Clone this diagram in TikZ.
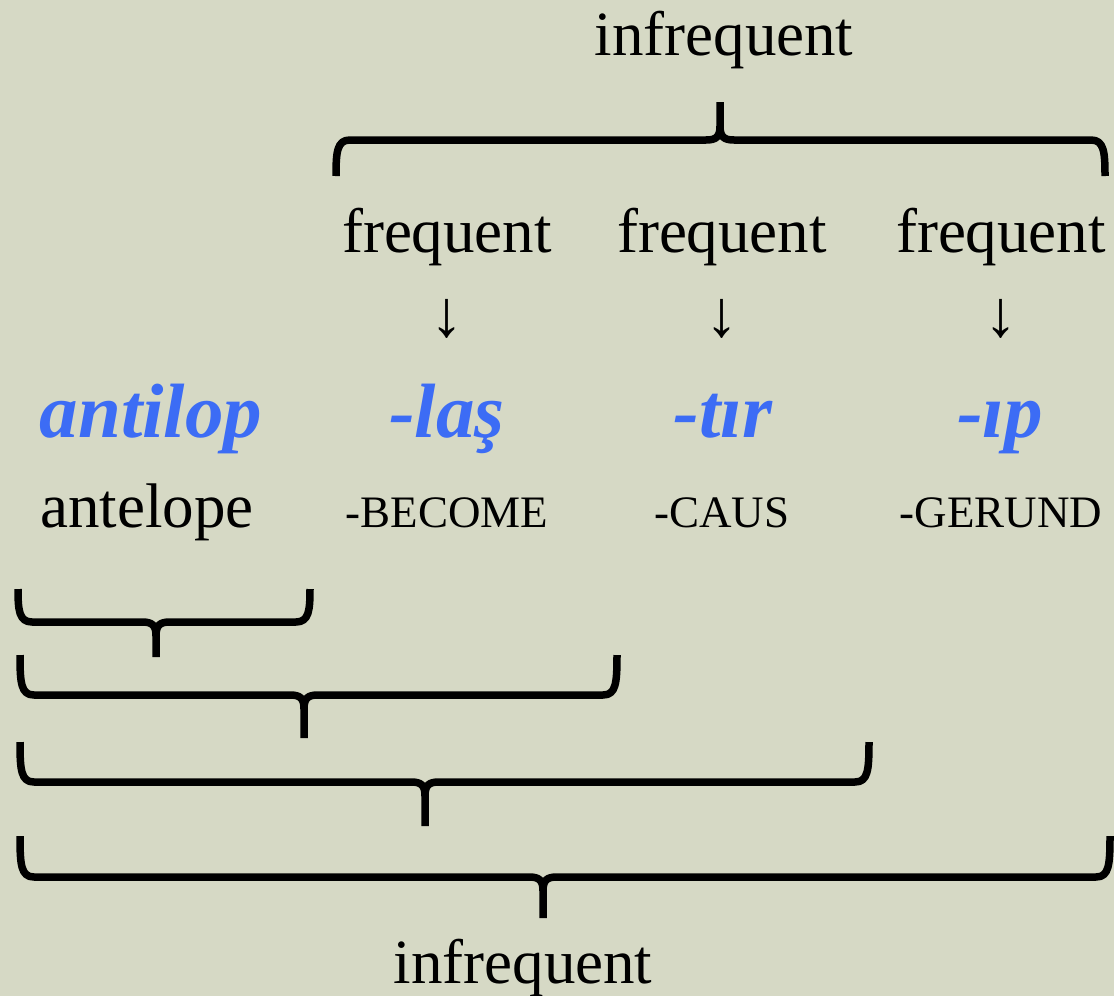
\documentclass[tikz,border=0pt]{standalone}
\usepackage{fontspec}
\setmainfont{Liberation Serif}
\definecolor{bg}{HTML}{D6D9C5}
\definecolor{morph}{HTML}{3C6CF5}
\newcommand\bracedown[6]{%
  \draw[bracestroke] (#1,#3) .. controls (#1,#4-12) and (#1+1,#4) .. (#1+14,#4)
     -- (#5-14,#4) .. controls (#5-4,#4) and (#5,#4+3) .. (#5,#4+14) -- (#5,#6);
  \draw[bracestroke] (#2,#3) .. controls (#2,#4-12) and (#2-1,#4) .. (#2-14,#4)
     -- (#5+14,#4) .. controls (#5+4,#4) and (#5,#4+3) .. (#5,#4+14);
}
\newcommand\braceup[6]{%
  \draw[bracestroke] (#1,#3) .. controls (#1,#4+12) and (#1+1,#4) .. (#1+14,#4)
     -- (#5-14,#4) .. controls (#5-4,#4) and (#5,#4-3) .. (#5,#4-14) -- (#5,#6);
  \draw[bracestroke] (#2,#3) .. controls (#2,#4+12) and (#2-1,#4) .. (#2-14,#4)
     -- (#5+14,#4) .. controls (#5+4,#4) and (#5,#4-3) .. (#5,#4-14);
}
\begin{document}
\begin{tikzpicture}[x=1pt,y=-1pt,
  bracestroke/.style={line width=7.5pt,line join=round,line cap=butt},
  lbl/.style={anchor=base,inner sep=0pt,font=\fontsize{63}{63}\selectfont},
  gloss/.style={anchor=base,inner sep=0pt,font=\fontsize{45}{45}\selectfont},
  word/.style={anchor=base,inner sep=0pt,text=morph,font=\fontsize{77}{77}\selectfont\bfseries\itshape},
  arr/.style={anchor=center,inner sep=0pt,font=\fontsize{66}{66}\selectfont}]
\fill[bg] (0,0) rectangle (1114,996);
\useasboundingbox (0,0) rectangle (1114,996);
% top
\node[lbl] (topinf) at (724,55) {infrequent};
\braceup{336}{1105}{176}{140}{720}{102}
\node[lbl] (f1) at (447,252) {frequent};
\node[lbl] (f2) at (722,252) {frequent};
\node[lbl] (f3) at (1001,252) {frequent};
\node[arr] (a1) at (447,319) {↓};
\node[arr] (a2) at (722,319) {↓};
\node[arr] (a3) at (1001,319) {↓};
\node[word] (w0) at (151,437) {antilop};
\node[word] (w1) at (447,437) {-laş};
\node[word] (w2) at (723,437) {-tır};
\node[word] (w3) at (1000,437) {-ıp};
\node[lbl] (g0) at (147,527) {antelope};
\node[gloss] (g1) at (447,527) {-BECOME};
\node[gloss] (g2) at (722,527) {-CAUS};
\node[gloss] (g3) at (1001,527) {-GERUND};
% bottom braces
\bracedown{18}{310}{589}{622}{156}{657}
\bracedown{20}{617}{655}{695}{304}{738}
\bracedown{20}{869}{742}{782}{425}{826}
\bracedown{20}{1110}{836}{877}{543}{918}
\node[lbl] (botinf) at (523,983) {infrequent};
\end{tikzpicture}
\end{document}
